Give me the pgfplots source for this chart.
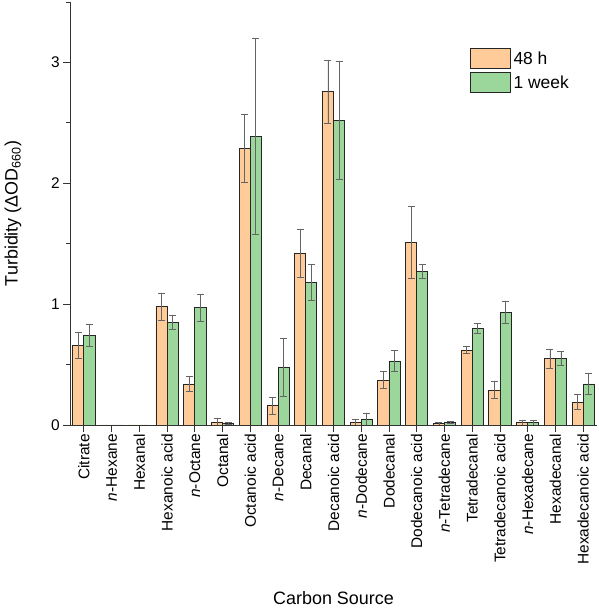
\documentclass[border=0pt]{standalone}
\usepackage{pgfplots}
\pgfplotsset{compat=1.18}
\usepackage{pgfplotstable}
\usetikzlibrary{calc}
\usepackage{fontspec}
\setmainfont{Liberation Sans}
\definecolor{c48}{RGB}{255,204,153}
\definecolor{c1w}{RGB}{155,215,155}
\definecolor{errc}{RGB}{100,100,100}
\pgfplotstableread{
x  a     ea    b     eb
0  0.66  0.11  0.74  0.09
1  0     0     0     0
2  0     0     0     0
3  0.98  0.11  0.85  0.06
4  0.34  0.06  0.97  0.11
5  0.025 0.03  0.015 0.01
6  2.29  0.28  2.39  0.81
7  0.16  0.07  0.48  0.24
8  1.42  0.20  1.18  0.15
9  2.76  0.26  2.52  0.49
10 0.02  0.03  0.05  0.05
11 0.37  0.07  0.53  0.09
12 1.51  0.30  1.27  0.06
13 0.01  0.01  0.02  0.01
14 0.62  0.03  0.80  0.04
15 0.29  0.07  0.93  0.09
16 0.02  0.02  0.02  0.02
17 0.55  0.08  0.55  0.06
18 0.19  0.06  0.34  0.09
}\data
\begin{document}
\begin{tikzpicture}
\begin{axis}[
  name=ax,
  scale only axis,
  width=527bp, height=423bp,
  ybar=0pt, bar width=0.4,
  xmin=-0.5, xmax=18.5,
  ymin=0, ymax=3.5,
  axis lines*=left,
  axis line style={line width=0.8bp, black!80},
  tick style={line width=0.8bp, black!80},
  tick align=outside,
  major tick length=7bp, minor tick length=4bp,
  ytick={0,1,2,3}, minor ytick={0.5,1.5,2.5,3.5},
  xtick=data,
  xticklabels={Citrate,\textit{n}-Hexane,Hexanal,Hexanoic acid,\textit{n}-Octane,Octanal,Octanoic acid,\textit{n}-Decane,Decanal,Decanoic acid,\textit{n}-Dodecane,Dodecanal,Dodecanoic acid,\textit{n}-Tetradecane,Tetradecanal,Tetradecanoic acid,\textit{n}-Hexadecane,Hexadecanal,Hexadecanoic acid},
  xticklabel style={rotate=90, anchor=east, inner sep=2bp, font=\fontsize{15.5}{17}\selectfont},
  yticklabel style={font=\fontsize{15.5}{17}\selectfont, inner sep=3bp},
  /pgf/number format/assume math mode=true,
  ylabel={Turbidity (ΔOD\textsubscript{660})},
  ylabel style={at={(axis description cs:-0.108,0.5)}, anchor=center, inner sep=0pt, font=\fontsize{18}{20}\selectfont},
  xlabel={Carbon Source},
  xlabel style={at={(axis description cs:0.5,-0.409)}, anchor=center, inner sep=0pt, font=\fontsize{18}{20}\selectfont},
  legend image code/.code={\draw[#1] (0bp,-10bp) rectangle (40bp,10bp);},
  legend style={at={(axis description cs:0.759,0.891)}, anchor=north west, draw=none, fill=none, inner sep=0pt, row sep=3bp, font=\fontsize{17.5}{19}\selectfont, nodes={inner sep=2.5bp}},
  legend cell align=left,
  error bars/y dir=both, error bars/y explicit,
  error bars/error bar style={errc, line width=0.7bp},
  error bars/error mark options={rotate=90, mark size=3.5bp, errc, line width=0.7bp},
]
\addplot[fill=c48, draw=black!85, line width=0.8bp] table[x=x, y=a, y error=ea] {\data};
\addlegendentry{48 h}
\addplot[fill=c1w, draw=black!85, line width=0.8bp] table[x=x, y=b, y error=eb] {\data};
\addlegendentry{1 week}
\end{axis}
\pgfresetboundingbox
\path ($(ax.south west)+(-70bp,-187bp)$) rectangle ($(ax.north east)+(1bp,2bp)$);
\end{tikzpicture}
\end{document}
